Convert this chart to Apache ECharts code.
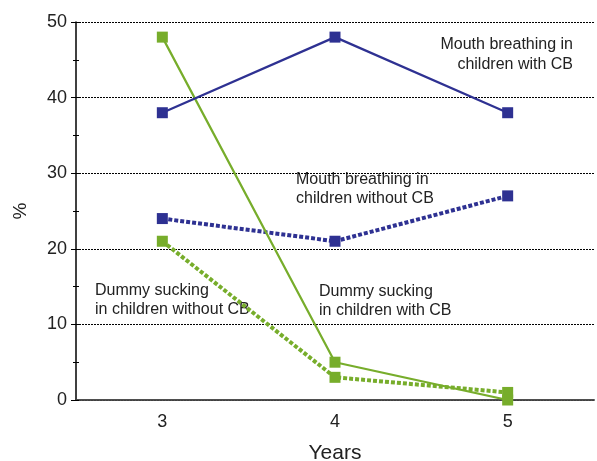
<!DOCTYPE html>
<html>
<head>
<meta charset="utf-8">
<script src="https://cdn.jsdelivr.net/npm/echarts@6/dist/echarts.min.js"></script>
<style>
  html, body { margin: 0; padding: 0; background: #fff; }
  #main { width: 597px; height: 461px; }
</style>
</head>
<body>
<div id="main"></div>
<script>
const years = ['3', '4', '5'];
const mouthWithCB = [38, 48, 38];
const mouthWithoutCB = [24, 21, 27];
const dummyWithCB = [48, 5, 0];
const dummyWithoutCB = [21, 3, 1];

const navy = '#2e3192';
const green = '#77ad2b';
const font = 'Liberation Sans, Arial, sans-serif';
const labelFont = '16px ' + font;

const chart = echarts.init(document.getElementById('main'));

function line(name, data, color, dotted) {
  return {
    name: name,
    type: 'line',
    data: data,
    symbol: 'rect',
    symbolSize: 11,
    itemStyle: { color: color },
    lineStyle: dotted
      ? { color: color, width: 4, type: [4, 2] }
      : { color: color, width: 2.2 },
    z: dotted ? 3 : 4
  };
}

chart.setOption({
  animation: false,
  grid: { left: 76, right: 3, top: 22, bottom: 61, outerBoundsMode: 'none' },
  xAxis: [
    {
      type: 'category',
      data: years,
      boundaryGap: true,
      name: 'Years',
      nameLocation: 'middle',
      nameGap: 43,
      nameTextStyle: { fontFamily: font, fontSize: 21, color: '#222' },
      axisLine: { lineStyle: { color: '#000', width: 1.5 } },
      axisTick: { alignWithLabel: true, length: 5, lineStyle: { color: '#000' } },
      axisLabel: { fontFamily: font, fontSize: 18, color: '#222', margin: 13 }
    },
    {
      type: 'category',
      data: years,
      position: 'top',
      axisLine: { lineStyle: { color: '#555', width: 1.5 } },
      axisTick: { show: false },
      axisLabel: { show: false }
    },
    {
      type: 'category',
      data: years,
      position: 'bottom',
      axisLine: { show: false },
      axisTick: { inside: true, alignWithLabel: true, length: 5, lineStyle: { color: '#000' } },
      axisLabel: { show: false }
    }
  ],
  yAxis: [
    {
      type: 'value',
      min: 0,
      max: 50,
      interval: 10,
      name: '%',
      nameLocation: 'middle',
      nameGap: 46,
      nameTextStyle: { fontFamily: font, fontSize: 19, color: '#222' },
      axisLine: { show: true, lineStyle: { color: '#000', width: 1.5 } },
      axisTick: { show: true, length: 5, lineStyle: { color: '#000' } },
      minorTick: { show: true, splitNumber: 2, length: 3, lineStyle: { color: '#000' } },
      axisLabel: { fontFamily: font, fontSize: 18, color: '#222', margin: 9 },
      splitLine: { lineStyle: { color: '#000', width: 1, type: [2, 1] } }
    },
    {
      type: 'value',
      min: 0,
      max: 50,
      interval: 10,
      position: 'left',
      axisLine: { show: false },
      axisTick: { show: true, inside: true, length: 3, lineStyle: { color: '#000' } },
      minorTick: { show: true, splitNumber: 2, length: 3, lineStyle: { color: '#000' } },
      axisLabel: { show: false },
      splitLine: { show: false }
    }
  ],
  graphic: [
    { type: 'text', x: 573, y: 35, style: { text: 'Mouth breathing in\nchildren with CB', align: 'right', font: labelFont, fill: '#222', lineHeight: 20 } },
    { type: 'text', x: 296, y: 170, style: { text: 'Mouth breathing in\nchildren without CB', font: labelFont, fill: '#222', lineHeight: 19 } },
    { type: 'text', x: 95, y: 281, style: { text: 'Dummy sucking\nin children without CB', font: labelFont, fill: '#222', lineHeight: 19 } },
    { type: 'text', x: 319, y: 282, style: { text: 'Dummy sucking\nin children with CB', font: labelFont, fill: '#222', lineHeight: 19 } }
  ],
  series: [
    line('Dummy sucking in children without CB', dummyWithoutCB, green, true),
    line('Mouth breathing in children without CB', mouthWithoutCB, navy, true),
    line('Dummy sucking in children with CB', dummyWithCB, green, false),
    line('Mouth breathing in children with CB', mouthWithCB, navy, false)
  ]
});
</script>
</body>
</html>
